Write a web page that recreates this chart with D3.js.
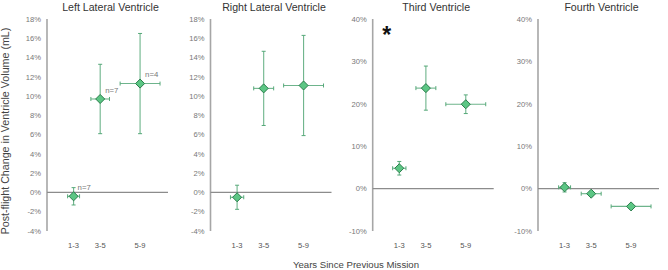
<!DOCTYPE html>
<html>
<head>
<meta charset="utf-8">
<script src="https://cdn.jsdelivr.net/npm/d3@7"></script>
<style>
    body { margin: 0; background: #fff; }
    text { font-family: "Liberation Sans", Arial, sans-serif; }
</style>
</head>
<body>
<div id="chart"></div>
<script>
// categories and their position on the years axis
const categories = ["1-3", "3-5", "5-9"];
const catYears = [2, 4, 7];

const titles = ["Left Lateral Ventricle", "Right Lateral Ventricle", "Third Ventricle", "Fourth Ventricle"];

// mean % change, vertical error, horizontal error (years)
const llvMean = [-0.4, 9.7, 11.3];
const llvErr = [0.9, 3.6, 5.2];
const llvXErr = [0.45, 0.7, 1.5];

const rlvMean = [-0.5, 10.8, 11.1];
const rlvErr = [1.25, 3.85, 5.2];
const rlvXErr = [0.5, 0.75, 1.5];

const thirdMean = [4.8, 23.7, 19.9];
const thirdErr = [1.6, 5.2, 2.2];
const thirdXErr = [0.5, 0.75, 1.5];

const fourthMean = [0.3, -1.2, -4.2];
const fourthErr = [1.1, 0.5, 0.4];
const fourthXErr = [0.45, 0.75, 1.5];

// tick values
const ticksLateral = [-4, -2, 0, 2, 4, 6, 8, 10, 12, 14, 16, 18];
const ticksSmall = [-10, 0, 10, 20, 30, 40];

// sample size notes (left lateral only)
const nLabels = ["n=7", "n=7", "n=4"];

const width = 668, height = 270;
const plotTop = 19, plotBottom = 231;
const panelLeft = [47, 210.5, 372.7, 538];
const panelWidth = 121;

const svg = d3.select("#chart").append("svg")
    .attr("width", width)
    .attr("height", height);

function drawPanel(i, means, errs, xErrs, ticks) {
    let x0 = panelLeft[i];
    let x = d3.scaleLinear().domain([0, 9.1]).range([x0, x0 + panelWidth]);
    let y = d3.scaleLinear().domain([ticks[0], ticks[ticks.length - 1]]).range([plotBottom, plotTop]);

    let g = svg.append("g");

    // title
    g.append("text")
        .attr("x", x0 + panelWidth / 2 + 3)
        .attr("y", 11)
        .attr("text-anchor", "middle")
        .attr("font-size", 10.6)
        .attr("fill", "#333")
        .text(titles[i]);

    // y axis line + labels
    g.append("line")
        .attr("x1", x0).attr("x2", x0)
        .attr("y1", y(ticks[0])).attr("y2", y(ticks[ticks.length - 1]))
        .attr("stroke", "#a6a6a6")
        .attr("stroke-width", 1.6);

    g.selectAll(".ytick")
        .data(ticks)
        .enter()
        .append("text")
        .attr("x", x0 - 6)
        .attr("y", d => y(d) + 2.7)
        .attr("text-anchor", "end")
        .attr("font-size", 7.6)
        .attr("fill", "#777")
        .text(d => d + "%");

    // zero baseline
    g.append("line")
        .attr("x1", x0).attr("x2", x0 + panelWidth)
        .attr("y1", y(0)).attr("y2", y(0))
        .attr("stroke", "#8c8c8c")
        .attr("stroke-width", 1.3);

    // category labels
    g.selectAll(".xtick")
        .data(categories)
        .enter()
        .append("text")
        .attr("x", (d, j) => x(catYears[j]))
        .attr("y", 247.5)
        .attr("text-anchor", "middle")
        .attr("font-size", 7.6)
        .attr("fill", "#555")
        .text(d => d);

    let idx = [0, 1, 2];
    let barColor = "#55a878";
    let cap = 2;

    // error bars, both directions
    idx.forEach(j => {
        let cx = x(catYears[j]);
        let yHi = y(means[j] + errs[j]), yLo = y(means[j] - errs[j]);
        g.append("line")
            .attr("x1", cx).attr("x2", cx).attr("y1", yHi).attr("y2", yLo)
            .attr("stroke", barColor).attr("stroke-width", 1.1).attr("opacity", 0.85);
        [yHi, yLo].forEach(yy => {
            g.append("line")
                .attr("x1", cx - cap).attr("x2", cx + cap).attr("y1", yy).attr("y2", yy)
                .attr("stroke", barColor).attr("stroke-width", 1);
        });

        let cy = y(means[j]);
        let xL = x(catYears[j] - xErrs[j]), xR = x(catYears[j] + xErrs[j]);
        g.append("line")
            .attr("x1", xL).attr("x2", xR).attr("y1", cy).attr("y2", cy)
            .attr("stroke", barColor).attr("stroke-width", 1.1).attr("opacity", 0.85);
        [xL, xR].forEach(xx => {
            g.append("line")
                .attr("x1", xx).attr("x2", xx).attr("y1", cy - cap).attr("y2", cy + cap)
                .attr("stroke", barColor).attr("stroke-width", 1);
        });
    });

    // diamond markers
    g.selectAll(".pt")
        .data(idx)
        .enter()
        .append("path")
        .attr("d", d3.symbol().type(d3.symbolDiamond2).size(52))
        .attr("transform", j => "translate(" + x(catYears[j]) + "," + y(means[j]) + ")")
        .attr("fill", "#5cc684")
        .attr("stroke", "#2b7d4c")
        .attr("stroke-width", 1);

    return {x: x, y: y};
}

let p1 = drawPanel(0, llvMean, llvErr, llvXErr, ticksLateral);
drawPanel(1, rlvMean, rlvErr, rlvXErr, ticksLateral);
let p3 = drawPanel(2, thirdMean, thirdErr, thirdXErr, ticksSmall);
drawPanel(3, fourthMean, fourthErr, fourthXErr, ticksSmall);

// n= notes on left lateral panel
const nOffset = [[4, -9], [5, -8], [5, -9]];
nLabels.forEach((t, j) => {
    svg.append("text")
        .attr("x", p1.x(catYears[j]) + nOffset[j][0])
        .attr("y", p1.y(llvMean[j]) + nOffset[j][1] + 2.5)
        .attr("font-size", 7.8)
        .attr("fill", "#777")
        .text(t);
});

// significance star on third ventricle
svg.append("text")
    .attr("x", p3.x(1.05))
    .attr("y", 43)
    .attr("text-anchor", "middle")
    .attr("font-size", 23)
    .attr("font-weight", "bold")
    .attr("fill", "#111")
    .text("*");

// axis titles
svg.append("text")
    .attr("transform", "translate(9," + 131 + ") rotate(-90)")
    .attr("text-anchor", "middle")
    .attr("font-size", 10.7)
    .attr("fill", "#444")
    .text("Post-flight Change in Ventricle Volume (mL)");

svg.append("text")
    .attr("x", 356)
    .attr("y", 268)
    .attr("text-anchor", "middle")
    .attr("font-size", 9.6)
    .attr("fill", "#444")
    .text("Years Since Previous Mission");
</script>
</body>
</html>
